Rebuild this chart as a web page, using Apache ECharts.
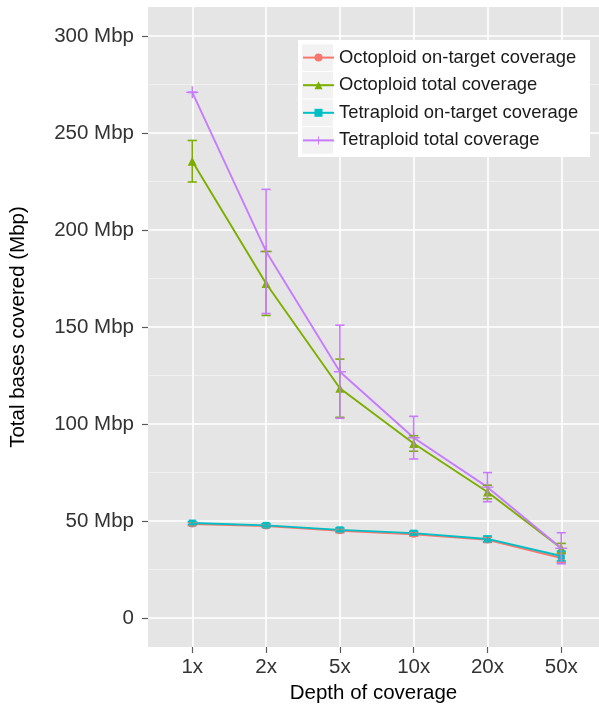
<!DOCTYPE html>
<html><head><meta charset="utf-8">
<script src="https://cdn.jsdelivr.net/npm/echarts@6/dist/echarts.min.js"></script>
<style>html,body{margin:0;padding:0;background:#fff}#c{width:599px;height:707px}</style>
</head><body><div id="c"></div>
<script>
// ---- data ----
const categories = ['1x', '2x', '5x', '10x', '20x', '50x'];
const yTicks = [0, 50, 100, 150, 200, 250, 300];
const yMinorTicks = [25, 75, 125, 175, 225, 275];

const octoOnTarget    = [48.5, 47.5, 45.0, 43.2, 40.3, 31.0];
const octoOnTargetErr = [0.8, 0.8, 1.0, 1.0, 1.3, 2.2];
const octoTotal       = [235.5, 172.5, 118.5, 90.0, 65.0, 36.0];
const octoTotalErr    = [10.7, 16.5, 15.0, 4.0, 3.5, 2.5];
const tetraOnTarget   = [49.0, 47.8, 45.5, 43.8, 40.8, 32.0];
const tetraOnTargetErr= [0.8, 0.8, 1.0, 1.0, 1.5, 2.5];
const tetraTotal      = [271.0, 189.0, 127.0, 93.0, 67.5, 36.0];
const tetraTotalErr   = [0.0, 32.0, 24.0, 11.0, 7.5, 8.0];

const seriesNames = ['Octoploid on-target coverage', 'Octoploid total coverage',
                     'Tetraploid on-target coverage', 'Tetraploid total coverage'];
const seriesValues = [octoOnTarget, octoTotal, tetraOnTarget, tetraTotal];
const seriesErrors = [octoOnTargetErr, octoTotalErr, tetraOnTargetErr, tetraTotalErr];
// ---- style ----
const colors = ['#F8766D', '#7CAE00', '#00BFC4', '#C77CFF'];
const symbols = ['circle', 'triangle', 'rect',
  'path://M0,5.3H12V6.7H0Z M5.3,0H6.7V12H5.3Z'];
const symbolSizes = [7, 9, 7, 12];
const FONT = '"Liberation Sans", Arial, Helvetica, sans-serif';

const chart = echarts.init(document.getElementById('c'));

const lineSeries = seriesNames.map((name, s) => ({
  name: name,
  type: 'line',
  data: seriesValues[s].map((v, i) => [i, v]),
  symbol: symbols[s],
  symbolSize: symbolSizes[s],
  showSymbol: true,
  showAllSymbol: true,
  color: colors[s],
  lineStyle: { width: 1.9, color: colors[s] },
  itemStyle: { color: colors[s] },
  z: 2 + s * 0.01,
  animation: false
}));

const errSeries = seriesNames.map((name, s) => ({
  name: name + ' err',
  type: 'custom',
  data: seriesValues[s].map((v, i) => [i, v - seriesErrors[s][i], v + seriesErrors[s][i]]),
  encode: { x: 0, y: [1, 2] },
  z: 5 + s * 0.01,
  silent: true,
  animation: false,
  renderItem: function (params, api) {
    const x = api.value(0);
    const lo = api.coord([x, api.value(1)]);
    const hi = api.coord([x, api.value(2)]);
    const w = 4.6;
    const st = { stroke: colors[s], lineWidth: 1.6 };
    return {
      type: 'group',
      children: [
        { type: 'line', shape: { x1: lo[0], y1: lo[1], x2: hi[0], y2: hi[1] }, style: st },
        { type: 'line', shape: { x1: lo[0] - w, y1: lo[1], x2: lo[0] + w, y2: lo[1] }, style: st },
        { type: 'line', shape: { x1: hi[0] - w, y1: hi[1], x2: hi[0] + w, y2: hi[1] }, style: st }
      ]
    };
  }
}));

// legend keys background
const keyTop = 43.8, keyStep = 27.6;
const graphics = [
  { type: 'rect', left: 298, top: 40, shape: { width: 292, height: 117 }, style: { fill: '#ffffff' }, z: 3 }
];
for (let k = 0; k < 4; k++) {
  graphics.push({ type: 'rect', left: 302, top: keyTop + k * keyStep + 0.5,
    shape: { width: 31, height: keyStep - 1 }, style: { fill: '#F2F2F2' }, z: 3 });
}

chart.setOption({
  animation: false,
  backgroundColor: '#ffffff',
  textStyle: { fontFamily: FONT },
  grid: { left: 148, right: 0, top: 7, height: 640, show: true, outerBoundsMode: 'none',
          backgroundColor: '#E5E5E5', borderWidth: 0, containLabel: false },
  graphic: graphics,
  legend: {
    data: seriesNames,
    orient: 'vertical',
    left: 302, top: 43.8,
    padding: 0,
    itemWidth: 31, itemHeight: 10, itemGap: 0,
    textStyle: { fontSize: 18.4, color: '#1a1a1a', lineHeight: 27.6, fontFamily: FONT },
    z: 6
  },
  xAxis: {
    type: 'value',
    min: -0.6, max: 5.511,
    name: 'Depth of coverage',
    nameLocation: 'middle',
    nameGap: 35,
    nameTextStyle: { fontSize: 20.5, color: '#000', fontFamily: FONT },
    axisLine: { show: false, onZero: false },
    axisTick: { show: true, length: 6, lineStyle: { color: '#5a5a5a', width: 1.2 },
                customValues: [0, 1, 2, 3, 4, 5] },
    axisLabel: { customValues: [0, 1, 2, 3, 4, 5], margin: 10, fontSize: 20.5, color: '#333',
                 fontFamily: FONT,
                 formatter: v => categories[Math.round(v)] },
    splitLine: { show: true, lineStyle: { color: '#ffffff', width: 1.6 } }
  },
  yAxis: [{
    type: 'value',
    min: -14.9, max: 315,
    name: 'Total bases covered (Mbp)',
    nameLocation: 'middle',
    nameGap: 119,
    nameTextStyle: { fontSize: 20.5, color: '#000', fontFamily: FONT },
    axisLine: { show: false, onZero: false },
    axisTick: { show: true, length: 6, lineStyle: { color: '#5a5a5a', width: 1.2 },
                customValues: yTicks },
    axisLabel: { customValues: yTicks, margin: 14, fontSize: 20.5, color: '#333', fontFamily: FONT,
                 formatter: v => (v === 0 ? '0' : v + ' Mbp') },
    splitLine: { show: true, lineStyle: { color: '#ffffff', width: 1.6 } }
  }, {
    type: 'value',
    min: -14.9, max: 315,
    position: 'left',
    axisLine: { show: false, onZero: false },
    axisTick: { show: false, customValues: yMinorTicks },
    axisLabel: { show: false, customValues: yMinorTicks },
    splitLine: { show: true, lineStyle: { color: '#F2F2F2', width: 0.8 } }
  }],
  series: lineSeries.concat(errSeries)
});
</script>
</body></html>
